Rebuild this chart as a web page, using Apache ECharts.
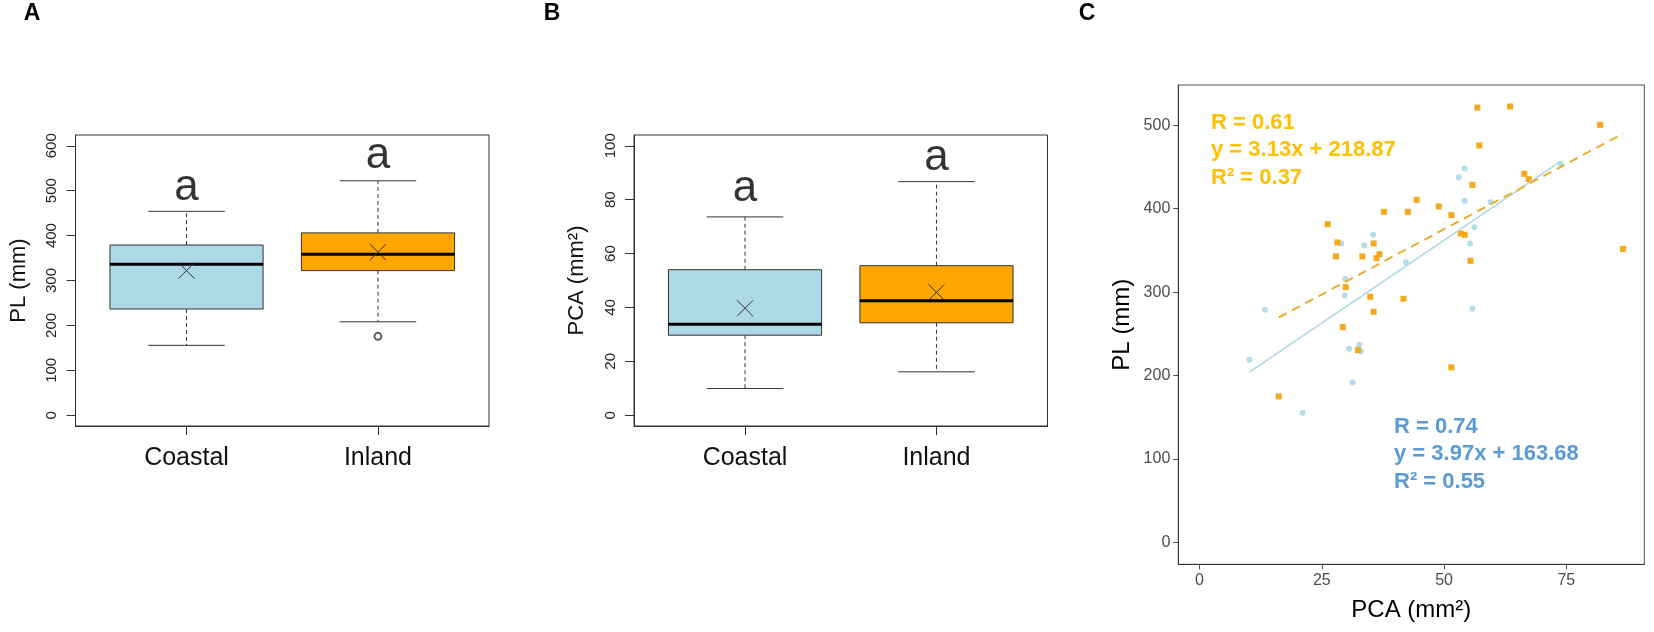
<!DOCTYPE html>
<html>
<head>
<meta charset="utf-8">
<script src="https://cdn.jsdelivr.net/npm/echarts@6/dist/echarts.min.js"></script>
<style>
  html, body { margin: 0; padding: 0; background: #fff; }
  #chart { width: 1654px; height: 632px; }
</style>
</head>
<body>
<div id="chart"></div>
<script>
// groups and box statistics: [min, Q1, median, Q3, max]
const groups = ['Coastal', 'Inland'];
const plStats = [[155.6, 236.6, 336, 379, 454], [208, 322, 358.6, 406, 522]];
const plMeans = [322, 363];
const plOutliers = [[2, 175.6]];
const pcaStats = [[9.9, 29.7, 33.8, 54, 73.6], [16.1, 34.3, 42.5, 55.5, 86.7]];
const pcaMeans = [39.7, 45.6];
const plTicks = [0, 100, 200, 300, 400, 500, 600];
const pcaTicks = [0, 20, 40, 60, 80, 100];
// letters shown above boxes (value where the letter sits)
const letterPL = [506, 578];
const letterPCA = [84, 95.4];

// scatter: PCA (x) and PL (y)
const coastalPCA = [54.2, 53, 54.2, 59.5, 56.2, 55.3, 35.5, 33.7, 29, 42.2, 29.8, 29.7, 13.4, 55.8, 10.2, 30.6, 32.7, 33, 31.3, 21.1, 73.8];
const coastalPL = [448, 437.7, 409.4, 407.8, 377.8, 358.3, 368.7, 355.9, 358.3, 335.9, 316, 296, 278.8, 280, 219, 232.1, 236.9, 229, 191.8, 155.5, 453.7];
const inlandPCA = [56.8, 63.5, 57.2, 66.4, 67.3, 55.8, 44.4, 48.9, 37.7, 42.6, 51.5, 26.2, 28.2, 35.6, 27.9, 33.3, 36.8, 36.2, 53.4, 54.2, 55.4, 29.9, 34.9, 35.6, 41.7, 29.3, 32.4, 51.5, 16.2, 81.9, 86.6];
const inlandPL = [521, 522.4, 475.7, 441.7, 435.3, 428.5, 410.5, 402.6, 396.2, 396.2, 392.2, 381.4, 359.5, 358.3, 342.7, 342.7, 345.5, 340.7, 370.3, 368.7, 337.5, 306, 294.4, 276.4, 292, 258, 230.5, 209.8, 175, 500.4, 351.8];
const coastalFit = { slope: 3.97, intercept: 163.68 };
const inlandFit = { slope: 3.13, intercept: 218.87 };
const pcaTicksC = [0, 25, 50, 75];
const plTicksC = [0, 100, 200, 300, 400, 500];

const FONT = 'Liberation Sans, Arial, sans-serif';
const boxFills = ['#ADD8E6', '#FFA500'];
const dark = '#333';

function boxData(stats, means) {
  return stats.map((s, i) => [i + 1, ...s, means[i]]);
}

function renderBox(params, api) {
  const p = api.value(0);
  const lo = api.coord([p, api.value(1)]);
  const q1 = api.coord([p, api.value(2)]);
  const med = api.coord([p, api.value(3)]);
  const q3 = api.coord([p, api.value(4)]);
  const hi = api.coord([p, api.value(5)]);
  const mean = api.coord([p, api.value(6)]);
  const half = api.size([0.4, 0])[0];
  const cap = half / 2;
  const cx = med[0];
  const m = 8;
  return {
    type: 'group',
    children: [
      { type: 'line', shape: { x1: cx, y1: q3[1], x2: cx, y2: hi[1] }, style: { stroke: dark, lineWidth: 1, lineDash: [4, 3] } },
      { type: 'line', shape: { x1: cx, y1: q1[1], x2: cx, y2: lo[1] }, style: { stroke: dark, lineWidth: 1, lineDash: [4, 3] } },
      { type: 'line', shape: { x1: cx - cap, y1: hi[1], x2: cx + cap, y2: hi[1] }, style: { stroke: dark, lineWidth: 1 } },
      { type: 'line', shape: { x1: cx - cap, y1: lo[1], x2: cx + cap, y2: lo[1] }, style: { stroke: dark, lineWidth: 1 } },
      { type: 'rect', shape: { x: cx - half, y: q3[1], width: half * 2, height: q1[1] - q3[1] },
        style: { fill: boxFills[params.dataIndex], stroke: dark, lineWidth: 1 } },
      { type: 'line', shape: { x1: cx - half, y1: med[1], x2: cx + half, y2: med[1] }, style: { stroke: '#000', lineWidth: 3 } },
      { type: 'line', shape: { x1: mean[0] - m, y1: mean[1] - m, x2: mean[0] + m, y2: mean[1] + m }, style: { stroke: dark, lineWidth: 1 } },
      { type: 'line', shape: { x1: mean[0] - m, y1: mean[1] + m, x2: mean[0] + m, y2: mean[1] - m }, style: { stroke: dark, lineWidth: 1 } }
    ]
  };
}

function catAxis(gridIndex) {
  return {
    type: 'value', gridIndex: gridIndex, min: 0.42, max: 2.58,
    axisLine: { show: true, onZero: false, lineStyle: { color: dark } },
    axisTick: { show: true, length: 9, customValues: [1, 2], lineStyle: { color: dark } },
    axisLabel: { customValues: [1, 2], formatter: v => groups[Math.round(v) - 1], color: '#111', fontSize: 25, fontFamily: FONT, margin: 20 },
    splitLine: { show: false }
  };
}

function boxYAxis(gridIndex, min, max, ticks, name) {
  return {
    type: 'value', gridIndex: gridIndex, min: min, max: max,
    name: name, nameLocation: 'middle', nameGap: 46,
    nameTextStyle: { fontSize: 22, color: '#111', fontFamily: FONT },
    axisLine: { show: true, onZero: false, lineStyle: { color: dark } },
    axisTick: { show: true, length: 9, customValues: ticks, lineStyle: { color: dark } },
    axisLabel: { customValues: ticks, rotate: 90, color: '#222', fontSize: 15, fontFamily: FONT, margin: 16 },
    splitLine: { show: false }
  };
}

function letterSeries(xi, vals) {
  return {
    type: 'scatter', xAxisIndex: xi, yAxisIndex: xi, symbolSize: 1,
    itemStyle: { color: 'rgba(0,0,0,0)' },
    label: { show: true, position: 'inside', formatter: 'a', fontSize: 44, color: '#000', fontFamily: FONT },
    data: vals.map((v, i) => [i + 1, v]),
    silent: true
  };
}

function fitLine(pca, fit) {
  const x0 = Math.min(...pca), x1 = Math.max(...pca);
  return [[x0, fit.slope * x0 + fit.intercept], [x1, fit.slope * x1 + fit.intercept]];
}

function panelLetter(text, x) {
  return { type: 'text', x: x, y: 14, style: { text: text, font: 'bold 23px ' + FONT, fill: '#000', align: 'center', verticalAlign: 'middle' } };
}

const chart = echarts.init(document.getElementById('chart'));

const option = {
  animation: false,
  backgroundColor: '#fff',
  textStyle: { fontFamily: FONT },
  grid: [
    { left: 75.5, top: 135, width: 413.5, height: 291, show: true, borderColor: dark, borderWidth: 1, backgroundColor: 'transparent' },
    { left: 634, top: 135, width: 413.5, height: 291, show: true, borderColor: dark, borderWidth: 1, backgroundColor: 'transparent' },
    { left: 1178.3, top: 85, width: 466, height: 479.3, show: true, borderColor: '#555', borderWidth: 1, backgroundColor: 'transparent' }
  ],
  xAxis: [
    catAxis(0),
    catAxis(1),
    {
      type: 'value', gridIndex: 2, min: -4.33, max: 90.93,
      name: 'PCA (mm²)', nameLocation: 'middle', nameGap: 34,
      nameTextStyle: { fontSize: 24, color: '#000', fontFamily: FONT },
      axisLine: { show: true, onZero: false, lineStyle: { color: dark } },
      axisTick: { show: true, length: 5, customValues: pcaTicksC, lineStyle: { color: '#4d4d4d' } },
      axisLabel: { customValues: pcaTicksC, color: '#4d4d4d', fontSize: 16, fontFamily: FONT, margin: 8 },
      splitLine: { show: false }
    }
  ],
  yAxis: [
    boxYAxis(0, -24, 624, plTicks, 'PL (mm)'),
    boxYAxis(1, -4, 104, pcaTicks, 'PCA (mm²)'),
    {
      type: 'value', gridIndex: 2, min: -26.1, max: 548.1,
      name: 'PL (mm)', nameLocation: 'middle', nameGap: 44,
      nameTextStyle: { fontSize: 24, color: '#000', fontFamily: FONT },
      axisLine: { show: true, onZero: false, lineStyle: { color: dark } },
      axisTick: { show: true, length: 5, customValues: plTicksC, lineStyle: { color: '#4d4d4d' } },
      axisLabel: { customValues: plTicksC, color: '#4d4d4d', fontSize: 16, fontFamily: FONT, margin: 8 },
      splitLine: { show: false }
    }
  ],
  series: [
    { type: 'custom', xAxisIndex: 0, yAxisIndex: 0, renderItem: renderBox, encode: { x: 0, y: 3 }, data: boxData(plStats, plMeans) },
    { type: 'scatter', xAxisIndex: 0, yAxisIndex: 0, symbol: 'emptyCircle', symbolSize: 7,
      itemStyle: { color: dark, borderColor: dark, borderWidth: 1 }, data: plOutliers },
    letterSeries(0, letterPL),
    { type: 'custom', xAxisIndex: 1, yAxisIndex: 1, renderItem: renderBox, encode: { x: 0, y: 3 }, data: boxData(pcaStats, pcaMeans) },
    letterSeries(1, letterPCA),
    { type: 'scatter', xAxisIndex: 2, yAxisIndex: 2, symbol: 'circle', symbolSize: 6,
      itemStyle: { color: '#ADD8E6', opacity: 0.9 }, data: coastalPCA.map((x, i) => [x, coastalPL[i]]) },
    { type: 'scatter', xAxisIndex: 2, yAxisIndex: 2, symbol: 'rect', symbolSize: 6,
      itemStyle: { color: '#F5A30F', opacity: 0.95 }, data: inlandPCA.map((x, i) => [x, inlandPL[i]]) },
    { type: 'line', xAxisIndex: 2, yAxisIndex: 2, showSymbol: false, symbol: 'none',
      lineStyle: { color: '#ADD8E6', width: 1.6 }, data: fitLine(coastalPCA, coastalFit) },
    { type: 'line', xAxisIndex: 2, yAxisIndex: 2, showSymbol: false, symbol: 'none',
      lineStyle: { color: '#E9AE2B', width: 2, type: [9, 6] }, data: fitLine(inlandPCA, inlandFit) }
  ],
  graphic: [
    panelLetter('A', 32),
    panelLetter('B', 552),
    panelLetter('C', 1087),
    { type: 'text', left: 1211, top: 109, style: { text: 'R = 0.61\ny = 3.13x + 218.87\nR² = 0.37', font: 'bold 22px ' + FONT, lineHeight: 27.5, fill: '#FFC000' } },
    { type: 'text', left: 1394, top: 413, style: { text: 'R = 0.74\ny = 3.97x + 163.68\nR² = 0.55', font: 'bold 22px ' + FONT, lineHeight: 27.5, fill: '#5B9BD5' } }
  ]
};

chart.setOption(option);
</script>
</body>
</html>
